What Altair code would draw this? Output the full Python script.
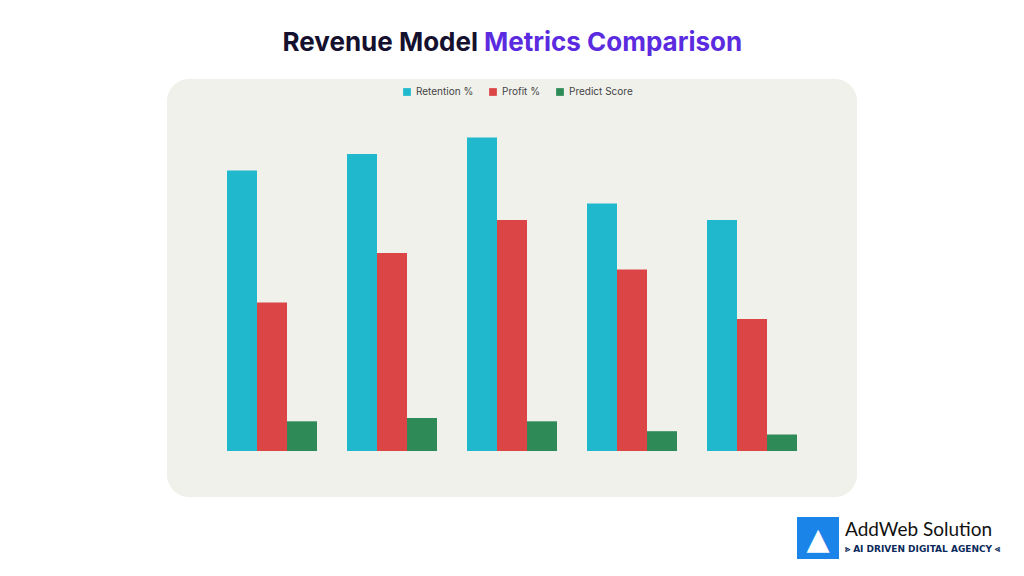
import altair as alt
import pandas as pd

models = ["Retainer", "Subscription", "Maintenance", "Value-Based", "Performance"]
series = ["Retention %", "Profit %", "Predict Score"]
retention = [85, 90, 95, 75, 70]
profit = [45, 60, 70, 55, 40]
predict = [9, 10, 9, 6, 5]
colors = ["#1FB8CD", "#DB4545", "#2E8B57"]

rows = []
for i, m in enumerate(models):
    for s, vals in zip(series, [retention, profit, predict]):
        rows.append({"model": m, "series": s, "value": vals[i]})
df = pd.DataFrame(rows)

W, H = 600, 330
one = pd.DataFrame({"a": [0]})

panel = alt.Chart(one).mark_rect(color="#F1F1EC", cornerRadius=22).encode(
    x=alt.value(-45), x2=alt.value(645), y=alt.value(-42), y2=alt.value(376))

bars = alt.Chart(df).mark_bar().encode(
    x=alt.X("model:N", sort=models, title="Revenue Model",
            scale=alt.Scale(paddingInner=0.0, paddingOuter=0.0),
            axis=alt.Axis(labelAngle=0, grid=True, bandPosition=0.5, tickSize=0,
                          domainColor="#444", gridColor="#DADAD5",
                          labelColor="#555", labelFontSize=10, titleFontSize=12,
                          titleColor="#333", titleFontWeight="normal", labelPadding=6)),
    xOffset=alt.XOffset("series:N", sort=series,
                        scale=alt.Scale(paddingInner=0, paddingOuter=0.5)),
    y=alt.Y("value:Q", title="Score/Percentage",
            scale=alt.Scale(domain=[0, 100]),
            axis=alt.Axis(values=[0, 20, 40, 60, 80, 100], domain=False, tickSize=4,
                          tickColor="#DADAD5", gridColor="#DADAD5",
                          labelColor="#555", labelFontSize=10, titleFontSize=11,
                          titleColor="#333", titleFontWeight="normal")),
    color=alt.Color("series:N", sort=series,
                    scale=alt.Scale(domain=series, range=colors),
                    legend=alt.Legend(title=None, orient="none", direction="horizontal",
                                      legendX=190, legendY=-34, symbolType="square",
                                      symbolSize=60, labelFontSize=10, labelColor="#444",
                                      columnPadding=14)),
)

def txt(s, x, y, size, color, weight="normal", align="left", font="Inter"):
    return alt.Chart(one).mark_text(text=s, fontSize=size, color=color, fontWeight=weight,
                                    align=align, baseline="middle", font=font).encode(
        x=alt.value(x), y=alt.value(y))

t1 = txt("Revenue Model", 266, -78, 26, "#14102E", "bold", "right")
t2 = txt("Metrics Comparison", 272, -78, 26, "#5B2BE0", "bold", "left")

logo_box = alt.Chart(one).mark_rect(color="#1A84E8").encode(
    x=alt.value(585), x2=alt.value(627), y=alt.value(396), y2=alt.value(438))
logo_tri = txt("▲", 606, 419, 30, "white", "bold", "center", "DejaVu Sans")
logo1 = txt("AddWeb Solution", 633, 409, 19, "#111", "normal", "left", "Lato")
logo2 = txt("⪢ AI DRIVEN DIGITAL AGENCY ⪡", 633, 428, 9, "#0B2A5B", "bold", "left", "DejaVu Sans")

chart = alt.layer(panel, bars, t1, t2, logo_box, logo_tri, logo1, logo2).properties(
    width=W, height=H,
    autosize=alt.AutoSizeParams(type="none"),
    padding={"left": 204, "top": 113, "right": 200, "bottom": 117},
    background="white",
).configure_view(stroke=None).configure_axis(labelFont="Inter", titleFont="Inter"
).configure_legend(labelFont="Inter")

chart.save("out.html", embed_options={"renderer": "svg", "actions": False})
